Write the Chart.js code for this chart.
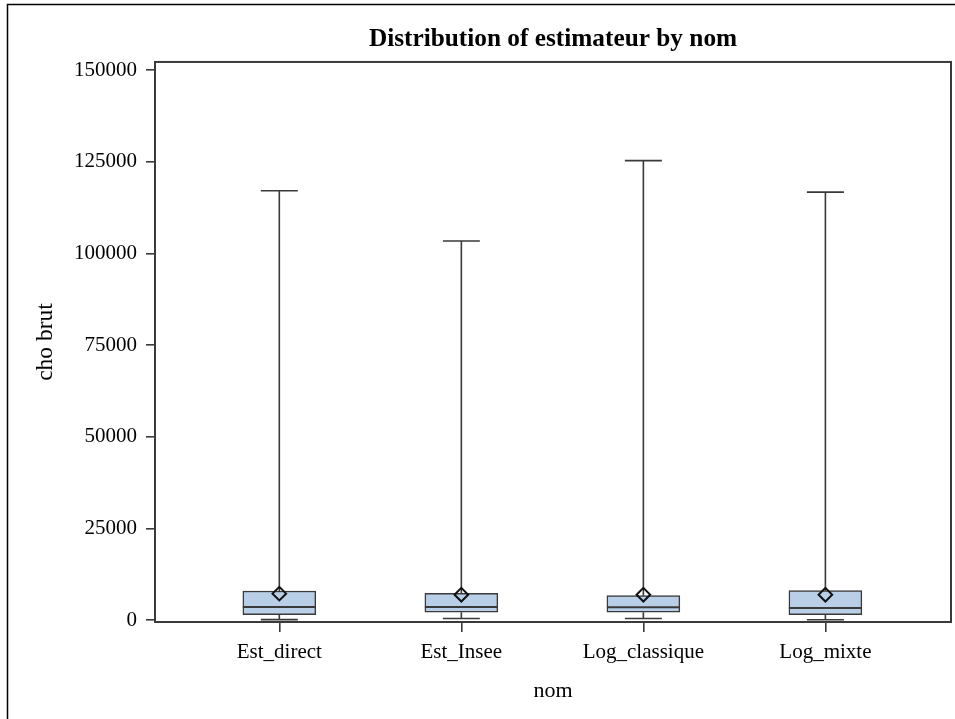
<!DOCTYPE html>
<html>
<head>
<meta charset="utf-8">
<script src="https://cdn.jsdelivr.net/npm/chart.js@4/dist/chart.umd.min.js"></script>
<style>
  html, body { margin: 0; padding: 0; background: #fff; }
  #wrap { width: 955px; height: 719px; position: relative; }
</style>
</head>
<body>
<div id="wrap"><canvas id="c" width="955" height="719"></canvas></div>
<script>
// Box-plot summary of each estimator
const categories = ['Est_direct', 'Est_Insee', 'Log_classique', 'Log_mixte'];
const minValues    = [150, 450, 450, 100];
const q1Values     = [1500, 2150, 2150, 1500];
const medianValues = [3600, 3600, 3520, 3330];
const q3Values     = [7960, 7340, 6680, 8050];
const maxValues    = [117100, 103400, 125300, 116700];
const meanValues   = [7230, 6950, 6950, 6950];
const yTickValues  = [0, 25000, 50000, 75000, 100000, 125000, 150000];

const LINE = '#3a3a3a';
const FILL = '#b9cfe8';
const FONT = '"Liberation Serif", "DejaVu Serif", serif';

const boxData = categories.map((c, i) => ({ x: i, y: [q1Values[i], q3Values[i]] }));
const meanData = categories.map((c, i) => ({ x: i, y: meanValues[i] }));

// Whiskers, caps and median lines, placed through the chart scales
const whiskerPlugin = {
  id: 'whiskers',
  afterDatasetDraw(chart, args) {
    if (args.index !== 0) return;
    const { ctx, scales: { x, y } } = chart;
    const boxW = 73, capW = 37;
    ctx.save();
    ctx.strokeStyle = LINE;
    ctx.lineCap = 'butt';
    categories.forEach((c, i) => {
      const cx = x.getPixelForValue(i);
      const yMin = y.getPixelForValue(minValues[i]);
      const yQ1 = y.getPixelForValue(q1Values[i]);
      const yMed = y.getPixelForValue(medianValues[i]);
      const yQ3 = y.getPixelForValue(q3Values[i]);
      const yMax = y.getPixelForValue(maxValues[i]);
      ctx.lineWidth = 1.6;
      ctx.beginPath();
      ctx.moveTo(cx, yQ3); ctx.lineTo(cx, yMax);
      ctx.moveTo(cx - capW / 2, yMax); ctx.lineTo(cx + capW / 2, yMax);
      ctx.moveTo(cx, yQ1); ctx.lineTo(cx, yMin);
      ctx.moveTo(cx - capW / 2, yMin); ctx.lineTo(cx + capW / 2, yMin);
      ctx.stroke();
      ctx.lineWidth = 2;
      ctx.beginPath();
      ctx.moveTo(cx - boxW / 2, yMed); ctx.lineTo(cx + boxW / 2, yMed);
      ctx.stroke();
    });
    ctx.restore();
  }
};

// Plot frame and outer border
const framePlugin = {
  id: 'frame',
  beforeDraw(chart) {
    const ctx = chart.ctx;
    ctx.save();
    ctx.strokeStyle = '#000';
    ctx.lineWidth = 1.5;
    ctx.beginPath();
    ctx.moveTo(7.5, 719); ctx.lineTo(7.5, 4.5); ctx.lineTo(955, 4.5);
    ctx.stroke();
    ctx.restore();
  },
  afterDraw(chart) {
    const { ctx, chartArea: a } = chart;
    ctx.save();
    ctx.strokeStyle = LINE;
    ctx.lineWidth = 2;
    ctx.strokeRect(a.left, a.top, a.right - a.left, a.bottom - a.top);
    ctx.restore();
  }
};

new Chart(document.getElementById('c'), {
  type: 'bar',
  data: {
    datasets: [
      {
        data: boxData,
        backgroundColor: FILL,
        borderColor: LINE,
        borderWidth: 1.5,
        borderSkipped: false,
        barThickness: 73,
        grouped: false,
        order: 2
      },
      {
        type: 'scatter',
        data: meanData,
        pointStyle: 'rectRot',
        pointRadius: 6.8,
        pointBackgroundColor: 'rgba(0,0,0,0)',
        pointBorderColor: '#111',
        pointBorderWidth: 2,
        order: 1
      }
    ]
  },
  options: {
    responsive: false,
    animation: false,
    events: [],
    layout: { autoPadding: false, padding: { left: 0, right: 4, top: 0, bottom: 0 } },
    plugins: {
      legend: { display: false },
      tooltip: { enabled: false },
      title: {
        display: true,
        fullSize: false,
        text: 'Distribution of estimateur by nom',
        color: '#000',
        font: { family: FONT, size: 25.3, weight: 'bold', lineHeight: 1.2 },
        padding: { top: 24.3, bottom: 7.3 }
      }
    },
    scales: {
      x: {
        type: 'linear',
        min: -0.683,
        max: 3.69,
        offset: false,
        afterFit(s) { s.height = 97; s.paddingLeft = 0; s.paddingRight = 0; },
        afterBuildTicks(s) { s.ticks = categories.map((c, i) => ({ value: i })); },
        ticks: {
          autoSkip: false,
          maxRotation: 0,
          minRotation: 0,
          padding: 8,
          color: '#000',
          font: { family: FONT, size: 21 },
          callback: (v) => categories[v]
        },
        grid: { display: true, drawOnChartArea: false, tickLength: 10, color: LINE, lineWidth: 1.6, offset: false },
        border: { display: false },
        title: {
          display: true,
          text: 'nom',
          color: '#000',
          font: { family: FONT, size: 22 },
          padding: { top: 0, bottom: 15 }
        }
      },
      y: {
        min: -500,
        max: 152200,
        afterFit(s) { s.width = 155; s.paddingTop = 0; s.paddingBottom = 0; },
        afterBuildTicks(s) { s.ticks = yTickValues.map(v => ({ value: v })); },
        ticks: {
          padding: 9,
          color: '#000',
          font: { family: FONT, size: 21 },
          callback: (v) => String(v)
        },
        grid: { display: true, drawOnChartArea: false, tickLength: 9, color: LINE, lineWidth: 1.6 },
        border: { display: false },
        title: {
          display: true,
          text: 'cho brut',
          color: '#000',
          font: { family: FONT, size: 23.5 },
          padding: { top: 32, bottom: 0 }
        }
      }
    }
  },
  plugins: [whiskerPlugin, framePlugin]
});
</script>
</body>
</html>
